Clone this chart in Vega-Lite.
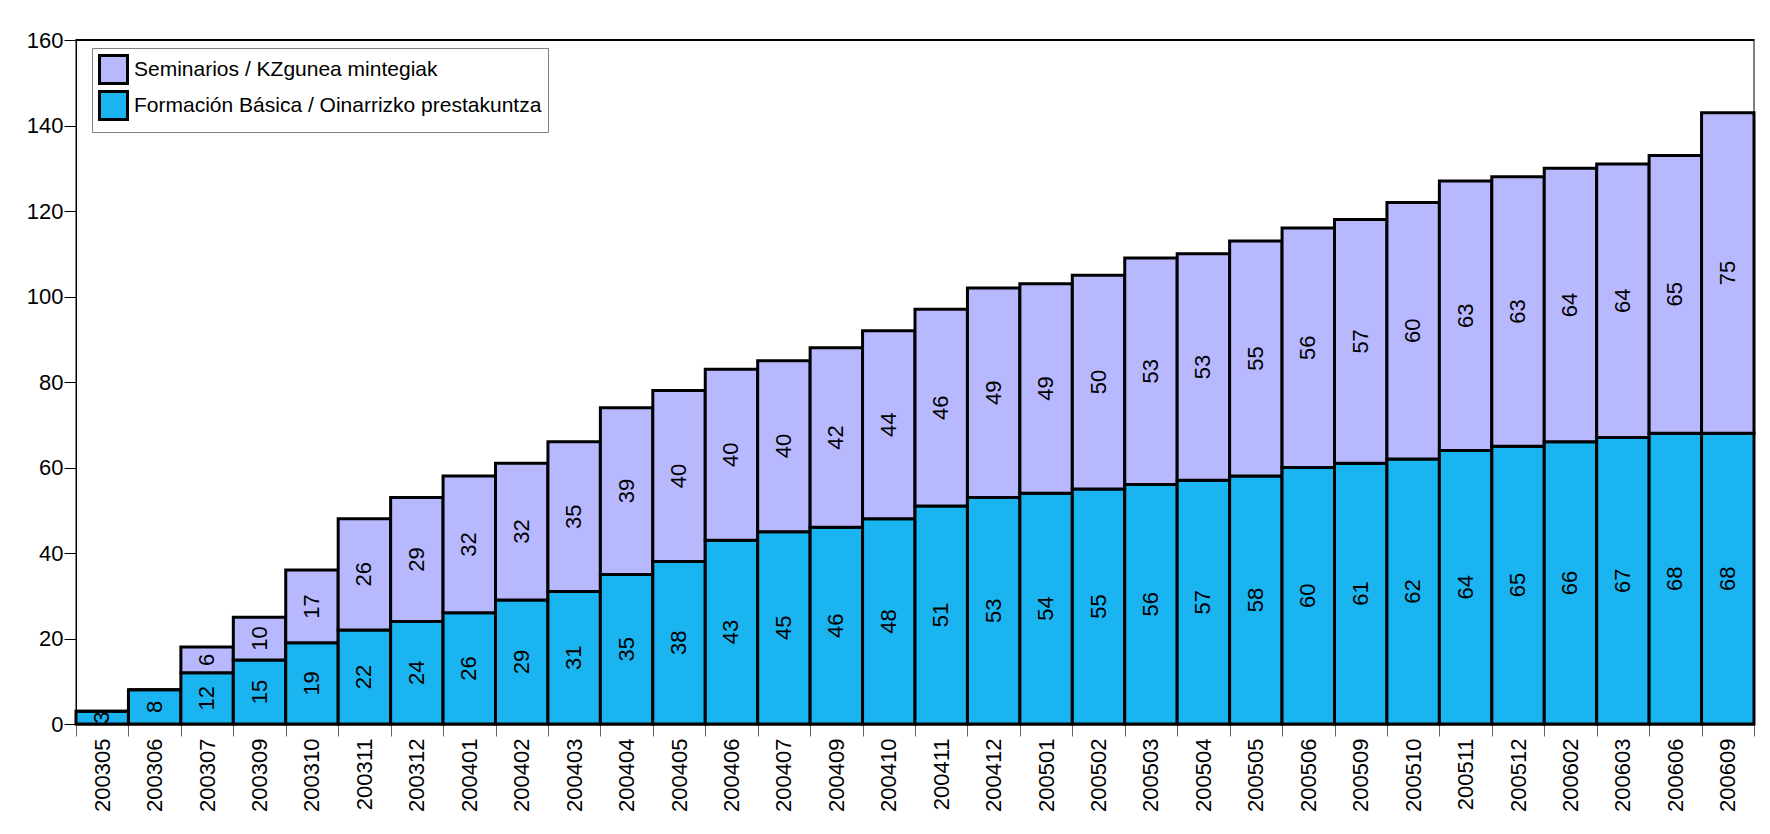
{
  "$schema": "https://vega.github.io/schema/vega-lite/v6.json",
  "width": 1678,
  "height": 684,
  "autosize": {"type": "none"},
  "padding": {"left": 76, "top": 40, "right": 16, "bottom": 110},
  "background": "white",
  "config": {
    "font": "Liberation Sans",
    "view": {"stroke": "#808080", "strokeWidth": 2}
  },
  "datasets": {
    "wide": [
      {"mes": "200305", "F": 3, "S": 0},
      {"mes": "200306", "F": 8, "S": 0},
      {"mes": "200307", "F": 12, "S": 6},
      {"mes": "200309", "F": 15, "S": 10},
      {"mes": "200310", "F": 19, "S": 17},
      {"mes": "200311", "F": 22, "S": 26},
      {"mes": "200312", "F": 24, "S": 29},
      {"mes": "200401", "F": 26, "S": 32},
      {"mes": "200402", "F": 29, "S": 32},
      {"mes": "200403", "F": 31, "S": 35},
      {"mes": "200404", "F": 35, "S": 39},
      {"mes": "200405", "F": 38, "S": 40},
      {"mes": "200406", "F": 43, "S": 40},
      {"mes": "200407", "F": 45, "S": 40},
      {"mes": "200409", "F": 46, "S": 42},
      {"mes": "200410", "F": 48, "S": 44},
      {"mes": "200411", "F": 51, "S": 46},
      {"mes": "200412", "F": 53, "S": 49},
      {"mes": "200501", "F": 54, "S": 49},
      {"mes": "200502", "F": 55, "S": 50},
      {"mes": "200503", "F": 56, "S": 53},
      {"mes": "200504", "F": 57, "S": 53},
      {"mes": "200505", "F": 58, "S": 55},
      {"mes": "200506", "F": 60, "S": 56},
      {"mes": "200509", "F": 61, "S": 57},
      {"mes": "200510", "F": 62, "S": 60},
      {"mes": "200511", "F": 64, "S": 63},
      {"mes": "200512", "F": 65, "S": 63},
      {"mes": "200602", "F": 66, "S": 64},
      {"mes": "200603", "F": 67, "S": 64},
      {"mes": "200606", "F": 68, "S": 65},
      {"mes": "200609", "F": 68, "S": 75}
    ]
  },
  "data": {"name": "wide"},
  "transform": [
    {"fold": ["F", "S"], "as": ["k", "valor"]},
    {"lookup": "k", "from": {"data": {"values": [
      {"k": "F", "serie": "Formación Básica / Oinarrizko prestakuntza"},
      {"k": "S", "serie": "Seminarios / KZgunea mintegiak"}
    ]}, "key": "k", "fields": ["serie"]}}
  ],
  "layer": [
    {
      "mark": {"type": "bar", "stroke": "black", "strokeWidth": 3},
      "encoding": {
        "x": {
          "field": "mes", "type": "ordinal",
          "scale": {"paddingInner": 0, "paddingOuter": 0},
          "axis": {
            "title": null, "labelAngle": -90, "labelFontSize": 22, "labelColor": "black",
            "labelPadding": 2, "tickSize": 12, "tickColor": "#666666", "tickBand": "extent",
            "domainColor": "black", "domainWidth": 2
          }
        },
        "y": {
          "field": "valor", "type": "quantitative", "stack": "zero",
          "scale": {"domain": [0, 160], "nice": false},
          "axis": {
            "title": null, "values": [0, 20, 40, 60, 80, 100, 120, 140, 160],
            "grid": false, "tickSize": 12, "tickColor": "black", "domainColor": "black",
            "labelFontSize": 22, "labelColor": "black", "labelPadding": 1
          }
        },
        "color": {
          "field": "serie", "type": "nominal",
          "scale": {
            "domain": ["Seminarios / KZgunea mintegiak", "Formación Básica / Oinarrizko prestakuntza"],
            "range": ["#b8b8ff", "#1ab4f0"]
          },
          "legend": {
            "title": null, "orient": "none", "legendX": 16, "legendY": 8,
            "direction": "vertical", "strokeColor": "#808080", "fillColor": "white",
            "padding": 6, "symbolType": "square", "symbolSize": 784,
            "symbolStrokeColor": "black", "symbolStrokeWidth": 3, "symbolOpacity": 1,
            "labelFontSize": 21, "labelColor": "black", "rowPadding": -7, "labelOffset": 5,
            "labelLimit": 0
          }
        },
        "order": {"field": "serie", "sort": "ascending"}
      }
    },
    {
      "mark": {"type": "rule", "color": "black", "strokeWidth": 1.5},
      "encoding": {"y": {"datum": 160, "type": "quantitative"}}
    },
    {
      "transform": [
        {"stack": "valor", "groupby": ["mes"], "sort": [{"field": "serie", "order": "ascending"}], "as": ["v0", "v1"]},
        {"calculate": "(datum.v0 + datum.v1) / 2", "as": "mid"},
        {"filter": "datum.valor > 0"}
      ],
      "mark": {"type": "text", "angle": 270, "fontSize": 22, "color": "black", "align": "center", "baseline": "middle"},
      "encoding": {
        "x": {"field": "mes", "type": "ordinal"},
        "y": {"field": "mid", "type": "quantitative"},
        "text": {"field": "valor", "type": "quantitative"}
      }
    }
  ]
}
